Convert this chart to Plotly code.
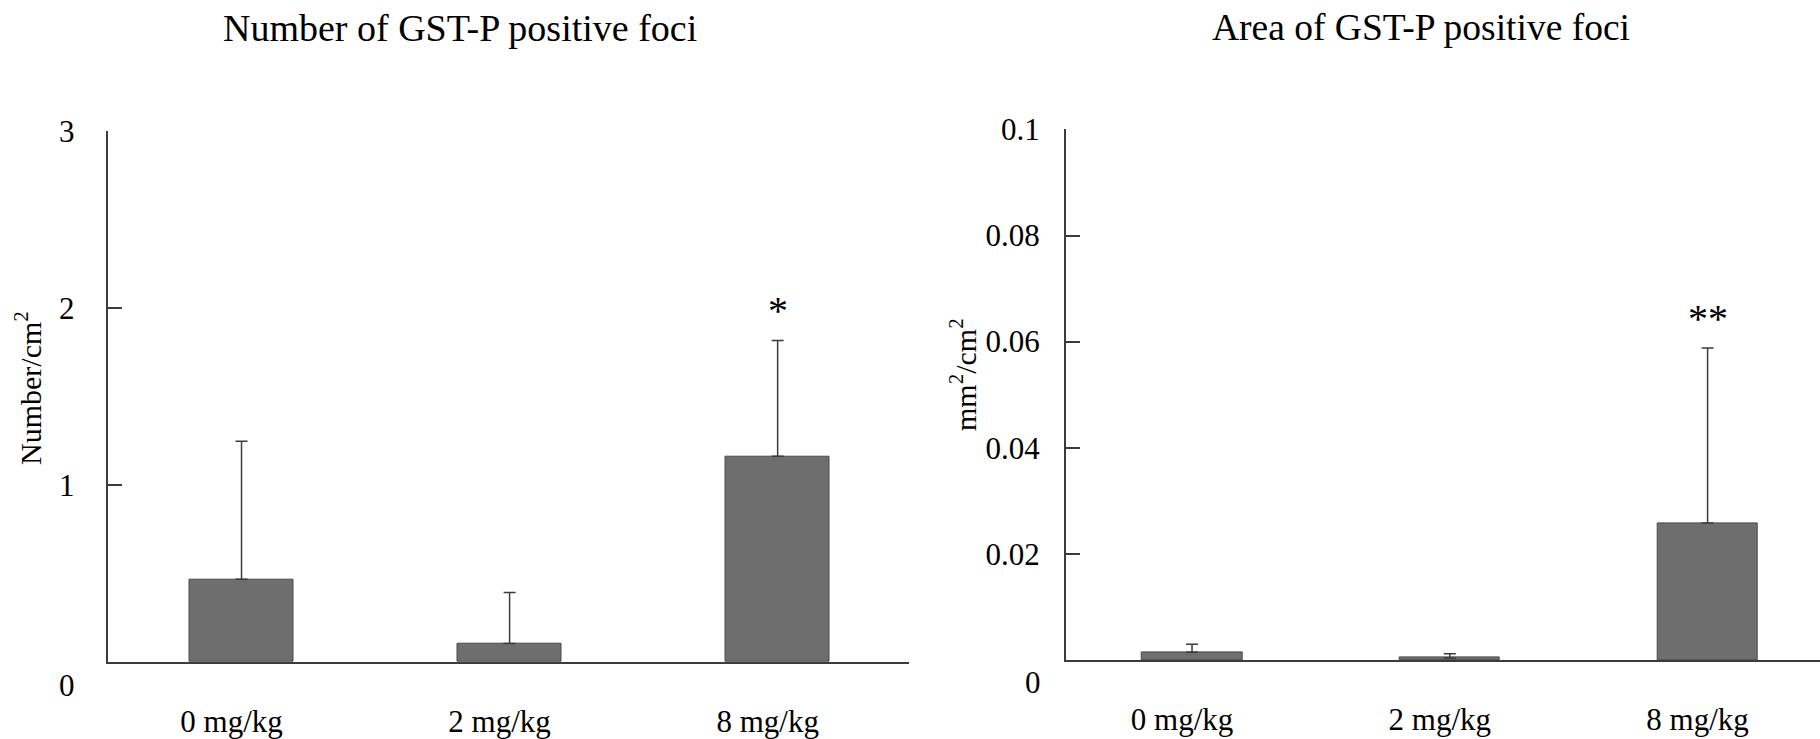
import plotly.graph_objects as go

# ---- data ----
doses = ["0 mg/kg", "2 mg/kg", "8 mg/kg"]

number_mean = [0.467, 0.105, 1.162]
number_upper = [1.247, 0.393, 1.815]
number_sig = ["", "", "*"]

area_mean = [0.00145, 0.0004, 0.0258]
area_upper = [0.00296, 0.0012, 0.0588]
area_sig = ["", "", "**"]

left_ticks = [1, 2, 3]
left_ticktext = ["1", "2", "3"]
right_ticks = [0.02, 0.04, 0.06, 0.08, 0.1]
right_ticktext = ["0.02", "0.04", "0.06", "0.08", "0.1"]

titles = ["Number of GST-P positive foci", "Area of GST-P positive foci"]
ytitles = ["Number/cm<sup>2</sup>", "mm<sup>2</sup>/cm<sup>2</sup>"]

# ---- style ----
W, H = 1820, 739
FONT = "Liberation Serif"
AX = "#3c3c3c"
BAR = "#6e6e6e"
BAR_EDGE = "#4a4a4a"

def px_x(v):
    return v / W

def px_y(v):
    return 1 - v / H

fig = go.Figure()

fig.add_trace(go.Bar(
    x=doses, y=number_mean, xaxis="x", yaxis="y", width=0.39,
    marker=dict(color=BAR, line=dict(color=BAR_EDGE, width=1)),
    error_y=dict(type="data", symmetric=False,
                 array=[u - m for u, m in zip(number_upper, number_mean)],
                 arrayminus=[0] * len(number_mean),
                 color=AX, thickness=1.5, width=6),
    showlegend=False,
))
fig.add_trace(go.Bar(
    x=doses, y=area_mean, xaxis="x2", yaxis="y2", width=0.39,
    marker=dict(color=BAR, line=dict(color=BAR_EDGE, width=1)),
    error_y=dict(type="data", symmetric=False,
                 array=[u - m for u, m in zip(area_upper, area_mean)],
                 arrayminus=[0] * len(area_mean),
                 color=AX, thickness=1.5, width=6),
    showlegend=False,
))

common_x = dict(showline=True, linecolor=AX, linewidth=1.5, ticks="",
                showgrid=False, zeroline=False, type="category", automargin=False,
                tickfont=dict(family=FONT, size=31, color="black"),
                ticklabelstandoff=31, ticklabelshift=-10)
common_y = dict(showline=True, linecolor=AX, linewidth=1.5, ticks="inside",
                ticklen=15, tickwidth=1.5, tickcolor=AX, automargin=False,
                showgrid=False, zeroline=False,
                tickfont=dict(family=FONT, size=31, color="black"))

fig.update_layout(
    width=W, height=H, autosize=False,
    margin=dict(l=0, r=0, t=0, b=0, pad=0, autoexpand=False),
    paper_bgcolor="white", plot_bgcolor="white",
    bargap=0,
    xaxis=dict(common_x, domain=[px_x(107.5), px_x(909)], range=[-0.5, 2.49], anchor="y"),
    yaxis=dict(common_y, domain=[px_y(662), px_y(130.7)], range=[0, 3], anchor="x",
               tickvals=left_ticks, ticktext=left_ticktext, ticklabelstandoff=25),
    xaxis2=dict(common_x, domain=[px_x(1065.7), 1.0], range=[-0.49, 2.436], anchor="y2"),
    yaxis2=dict(common_y, domain=[px_y(660), px_y(129.4)], range=[0, 0.1], anchor="x2",
                tickvals=right_ticks, ticktext=right_ticktext, ticklabelstandoff=18),
)

ann = []
# titles
ann.append(dict(text=titles[0], x=px_x(460), y=px_y(27.5), xref="paper", yref="paper",
                showarrow=False, xanchor="center", yanchor="middle",
                font=dict(family=FONT, size=38, color="black")))
ann.append(dict(text=titles[1], x=px_x(1421), y=px_y(27.5), xref="paper", yref="paper",
                showarrow=False, xanchor="center", yanchor="middle",
                font=dict(family=FONT, size=37.5, color="black")))
# y titles
ann.append(dict(text=ytitles[0], x=px_x(28), y=px_y(388), xref="paper", yref="paper",
                showarrow=False, textangle=-90, xanchor="center", yanchor="middle",
                font=dict(family=FONT, size=30, color="black")))
ann.append(dict(text=ytitles[1], x=px_x(963), y=px_y(375), xref="paper", yref="paper",
                showarrow=False, textangle=-90, xanchor="center", yanchor="middle",
                font=dict(family=FONT, size=30, color="black")))
# zero labels (offset below the baseline as in the original)
ann.append(dict(text="0", x=px_x(66.7), y=0, xref="paper", yref="y", yshift=-23,
                showarrow=False, xanchor="center", yanchor="middle",
                font=dict(family=FONT, size=31, color="black")))
ann.append(dict(text="0", x=px_x(1033), y=0, xref="paper", yref="y2", yshift=-22,
                showarrow=False, xanchor="center", yanchor="middle",
                font=dict(family=FONT, size=31, color="black")))
# significance marks
for d, u, s in zip(doses, number_upper, number_sig):
    if s:
        ann.append(dict(text=s, x=d, y=u, xref="x", yref="y", yshift=6,
                        showarrow=False, xanchor="center", yanchor="bottom",
                        font=dict(family=FONT, size=40, color="black")))
for d, u, s in zip(doses, area_upper, area_sig):
    if s:
        ann.append(dict(text=s, x=d, y=u, xref="x2", yref="y2", yshift=5,
                        showarrow=False, xanchor="center", yanchor="bottom",
                        font=dict(family=FONT, size=40, color="black")))

fig.update_layout(annotations=ann)

fig.write_html("out.html")
